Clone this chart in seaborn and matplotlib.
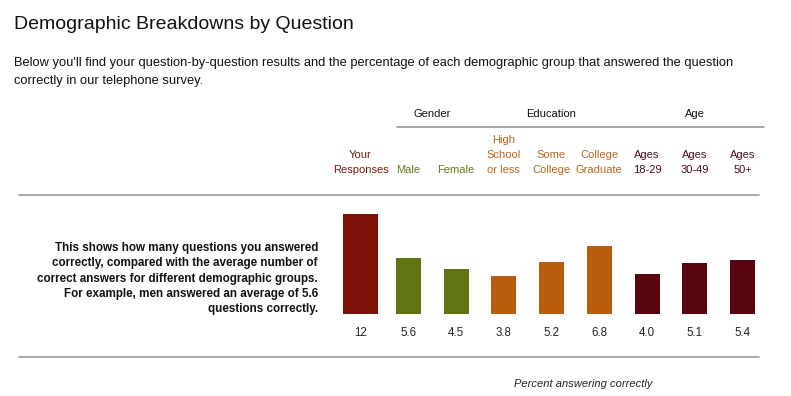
import matplotlib
matplotlib.use("Agg")
import matplotlib.pyplot as plt
import matplotlib.transforms as mtransforms
import seaborn as sns
import pandas as pd

# ---- data ----
categories = ["Your\nResponses", "Male", "Female", "High\nSchool\nor less",
              "Some\nCollege", "College\nGraduate", "Ages\n18-29", "Ages\n30-49", "Ages\n50+"]
groups = ["You", "Gender", "Gender", "Education", "Education", "Education", "Age", "Age", "Age"]
values = [12, 5.6, 4.5, 3.8, 5.2, 6.8, 4.0, 5.1, 5.4]
value_labels = ["12", "5.6", "4.5", "3.8", "5.2", "6.8", "4.0", "5.1", "5.4"]
group_titles = ["Gender", "Education", "Age"]

bar_colors = {"You": "#7d120a", "Gender": "#5f7511", "Education": "#ba5c0f", "Age": "#58050f"}
text_colors = {"You": "#7a1a0e", "Gender": "#667a1c", "Education": "#bf6419", "Age": "#4a0c12"}

df = pd.DataFrame({"category": categories, "value": values, "group": groups})

W, H = 791, 396
sns.set_theme(style="white")
plt.rcParams["font.family"] = ["Liberation Sans", "DejaVu Sans"]

fig = plt.figure(figsize=(W / 100, H / 100), dpi=100)
fig.patch.set_facecolor("white")

def fx(x):
    return x / W

def fy(y):
    return 1 - y / H

# axes: x index 0 at px 360.5, index 8 at px 742.5
step = (742.5 - 360.5) / 8
ax_left = 360.5 - step / 2
ax_right = 742.5 + step / 2
ax = fig.add_axes([fx(ax_left), fy(314), fx(ax_right - ax_left), (314 - 214) / H])

palette = [bar_colors[g] for g in groups]
sns.barplot(data=df, x="category", y="value", hue="category", palette=palette,
            order=categories, hue_order=categories, legend=False, ax=ax,
            width=25 / step, saturation=1)
# first bar is wider
for i, p in enumerate(ax.patches):
    w = (35 if i == 0 else 25) / step
    c = p.get_x() + p.get_width() / 2
    p.set_x(c - w / 2)
    p.set_width(w)
    p.set_edgecolor("none")

ax.set_xlim(-0.5, len(categories) - 0.5)
ax.set_ylim(0, 10)
ax.axis("off")

blend = mtransforms.blended_transform_factory(ax.transData, fig.transFigure)

# column headers and values
for i, (cat, g, lab) in enumerate(zip(categories, groups, value_labels)):
    lines = cat.split("\n")
    base = 173
    for k, line in enumerate(reversed(lines)):
        ax.text(i, fy(base - 15 * k), line, transform=blend, ha="center", va="baseline",
                fontsize=8, color=text_colors[g], clip_on=False)
    ax.text(i, fy(336), lab, transform=blend, ha="center", va="baseline",
            fontsize=8.3, color="#222222", clip_on=False)

# group headers
group_x = {}
for i, g in enumerate(groups):
    group_x.setdefault(g, []).append(i)
for g in group_titles:
    idx = group_x[g]
    xc = (idx[0] + idx[-1]) / 2
    ax.text(xc, fy(117), g, transform=blend, ha="center", va="baseline",
            fontsize=8, color="#111111", clip_on=False)

# rules
line_col = "#999999"
fig.add_artist(plt.Line2D([fx(397), fx(764)], [fy(126.5), fy(126.5)], color=line_col, lw=1.2))
fig.add_artist(plt.Line2D([fx(19), fx(759)], [fy(195), fy(195)], color=line_col, lw=1.2))
fig.add_artist(plt.Line2D([fx(19), fx(759)], [fy(356.5), fy(356.5)], color=line_col, lw=1.2))

# title and intro
fig.text(fx(14), fy(29), "Demographic Breakdowns by Question", fontsize=14,
         color="#111111", ha="left", va="baseline")
fig.text(fx(14), fy(66), "Below you'll find your question-by-question results and the percentage "
         "of each demographic group that answered the question", fontsize=9.3,
         color="#111111", ha="left", va="baseline")
fig.text(fx(14), fy(84), "correctly in our telephone survey.", fontsize=9.3,
         color="#111111", ha="left", va="baseline")

# left explanatory note
note = ["This shows how many questions you answered",
        "correctly, compared with the average number of",
        "correct answers for different demographic groups.",
        "For example, men answered an average of 5.6",
        "questions correctly."]
for k, line in enumerate(note):
    fig.text(fx(318), fy(251 + 15.3 * k), line, fontsize=8.4, fontweight="bold",
             color="#111111", ha="right", va="baseline")

fig.text(fx(583), fy(387), "Percent answering correctly", fontsize=8, style="italic",
         color="#222222", ha="center", va="baseline")

fig.savefig("out.png", dpi=100, facecolor="white")
